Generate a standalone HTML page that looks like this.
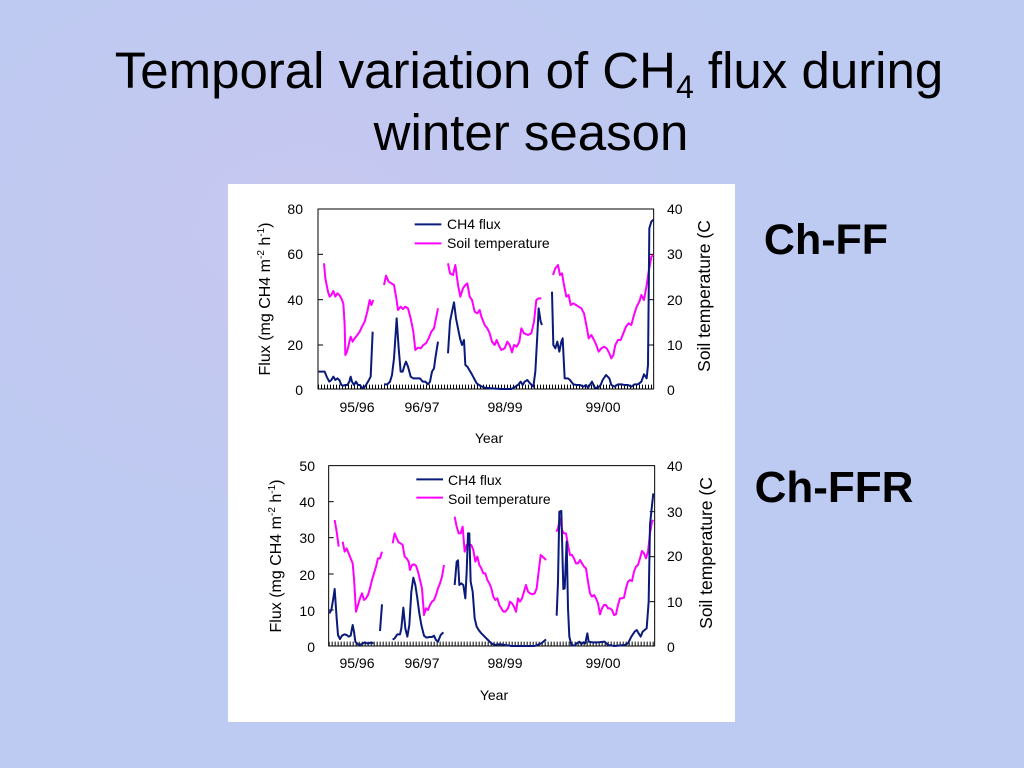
<!DOCTYPE html>
<html><head><meta charset="utf-8"><style>
html,body{margin:0;padding:0;width:1024px;height:768px;overflow:hidden;background:#bcc9f1;}
svg{display:block}
text{font-family:"Liberation Sans",sans-serif;}
</style></head><body>
<svg width="1024" height="768" viewBox="0 0 1024 768" xmlns="http://www.w3.org/2000/svg">
<defs>
<radialGradient id="b1" cx="0.3" cy="0.3" r="0.6"><stop offset="0" stop-color="#d4c4ee"/><stop offset="1" stop-color="#bcc9f1" stop-opacity="0"/></radialGradient>
</defs>
<rect width="1024" height="768" fill="#bdcaf1"/>
<rect width="1024" height="768" fill="url(#b1)" opacity="0.5"/>
<text x="529" y="88" font-size="51" text-anchor="middle" fill="#000">Temporal variation of CH<tspan font-size="32" dy="10">4</tspan><tspan dy="-10"> flux during</tspan></text>
<text x="531" y="150" font-size="51" text-anchor="middle" fill="#000">winter season</text>
<text x="826" y="254" font-size="43" font-weight="bold" text-anchor="middle">Ch-FF</text>
<text x="834" y="502" font-size="44" font-weight="bold" text-anchor="middle">Ch-FFR</text>
<rect x="228" y="184" width="507" height="538" fill="#fff"/>

<!-- Chart 1 -->
<g transform="translate(228,185) scale(0.33333)" fill="none" stroke-linejoin="round">
<rect x="270" y="72" width="1007" height="540" stroke="#000" stroke-width="3"/>
<line x1="270" y1="605" x2="1277" y2="605" stroke="#000" stroke-width="12" stroke-dasharray="3,6"/>
<g stroke="#000" stroke-width="3">
<line x1="270" y1="208" x2="285" y2="208"/><line x1="270" y1="344" x2="285" y2="344"/><line x1="270" y1="480" x2="285" y2="480"/>
<line x1="1262" y1="208" x2="1277" y2="208"/><line x1="1262" y1="344" x2="1277" y2="344"/><line x1="1262" y1="480" x2="1277" y2="480"/>
</g>
<g stroke="#ff00ff" stroke-width="6">
<polyline points="288,235 292,280 300,320 305,335 310,330 316,318 322,335 328,325 334,330 340,340 346,355 350,420 352,510 357,500 362,480 368,455 374,470 380,460 388,450 395,440 402,425 410,410 418,380 425,345 430,360 436,345"/>
<polyline points="468,300 474,272 482,290 490,295 498,300 505,340 510,375 518,365 525,372 532,365 540,370 548,400 556,440 562,495 570,488 578,490 586,480 594,475 602,460 610,440 618,430 624,400 630,370"/>
<polyline points="660,235 666,265 675,270 682,240 690,300 697,335 705,310 712,300 718,295 725,335 732,345 740,380 748,385 755,375 760,395 770,420 778,430 785,445 792,470 800,480 806,465 812,480 820,495 830,490 838,470 845,480 852,502 858,480 866,485 874,470 880,430 888,445 900,450 910,445 918,410 925,345 932,340 940,340"/>
<polyline points="975,270 982,250 990,240 996,270 1002,265 1008,300 1015,335 1022,330 1028,360 1036,355 1044,360 1052,365 1060,370 1068,385 1075,420 1082,460 1090,450 1098,465 1105,480 1112,500 1120,490 1128,485 1136,490 1144,505 1150,520 1156,510 1162,480 1170,465 1178,465 1186,445 1194,425 1202,415 1210,420 1218,390 1226,365 1234,350 1240,330 1248,345 1256,300 1262,260 1270,215 1276,210"/>
</g>
<g stroke="#0a1a7a" stroke-width="6">
<polyline points="272,560 282,560 290,560 296,575 304,590 310,585 316,575 322,585 328,580 334,585 340,600 346,602 352,600 358,600 364,590 368,575 372,590 378,600 384,590 390,600 396,600 402,608 408,608 414,600 420,590 428,575 434,440"/>
<polyline points="468,598 478,598 486,590 492,570 498,520 506,400 512,490 518,560 524,560 530,540 534,530 540,545 548,575 556,580 566,580 576,580 584,590 592,590 600,598 606,590 612,560 618,550 622,520 630,470"/>
<polyline points="660,505 666,410 672,380 678,352 684,400 690,430 696,460 702,480 708,465 712,540 718,545 724,555 730,565 738,580 746,595 756,602 770,608 790,610 820,612 850,612 870,600 878,590 884,600 890,590 898,585 906,595 916,605 922,560 928,450 932,370 938,410 942,420"/>
<polyline points="972,320 976,480 982,490 988,470 994,500 1000,470 1004,460 1010,580 1020,580 1026,585 1036,598 1046,600 1056,600 1066,605 1074,600 1080,608 1092,590 1100,608 1110,608 1118,600 1124,585 1134,570 1144,580 1150,600 1160,605 1170,598 1180,598 1190,600 1200,600 1210,605 1220,598 1230,598 1240,590 1248,568 1256,580 1260,540 1264,130 1270,110 1276,104"/>
</g>
<line x1="560" y1="118" x2="640" y2="118" stroke="#0a1a7a" stroke-width="6"/>
<line x1="560" y1="175" x2="640" y2="175" stroke="#ff00ff" stroke-width="6"/>
</g>
<g font-size="14" fill="#000">
<text x="447" y="229">CH4 flux</text>
<text x="447" y="248">Soil temperature</text>
<text x="303" y="214" text-anchor="end">80</text><text x="303" y="259" text-anchor="end">60</text><text x="303" y="305" text-anchor="end">40</text><text x="303" y="350" text-anchor="end">20</text><text x="303" y="395" text-anchor="end">0</text>
<text x="667" y="214">40</text><text x="667" y="259">30</text><text x="667" y="305">20</text><text x="667" y="350">10</text><text x="667" y="395">0</text>
<text x="357" y="412" text-anchor="middle">95/96</text><text x="422" y="412" text-anchor="middle">96/97</text><text x="505" y="412" text-anchor="middle">98/99</text><text x="603" y="412" text-anchor="middle">99/00</text>
<text x="489" y="443" text-anchor="middle">Year</text>
<text transform="translate(270,299) rotate(-90)" text-anchor="middle" font-size="16">Flux (mg CH4 m<tspan font-size="10" dy="-6">-2</tspan><tspan dy="6"> h</tspan><tspan font-size="10" dy="-6">-1</tspan><tspan dy="6">)</tspan></text>
<text transform="translate(710,296) rotate(-90)" text-anchor="middle" font-size="17.5">Soil temperature (C</text>
</g>

<!-- Chart 2 -->
<g transform="translate(228,445) scale(0.33333)" fill="none" stroke-linejoin="round">
<rect x="302" y="62" width="978" height="541" stroke="#000" stroke-width="3"/>
<line x1="302" y1="596" x2="1280" y2="596" stroke="#000" stroke-width="12" stroke-dasharray="3,6"/>
<g stroke="#000" stroke-width="3">
<line x1="302" y1="170" x2="317" y2="170"/><line x1="302" y1="278" x2="317" y2="278"/><line x1="302" y1="387" x2="317" y2="387"/><line x1="302" y1="495" x2="317" y2="495"/>
<line x1="1265" y1="200" x2="1280" y2="200"/><line x1="1265" y1="335" x2="1280" y2="335"/><line x1="1265" y1="470" x2="1280" y2="470"/>
</g>
<g stroke="#ff00ff" stroke-width="6">
<polyline points="320,225 326,260 332,305"/>
<polyline points="344,290 350,320 356,310 362,325 368,340 374,355 378,400 384,500 390,480 396,460 402,445 408,465 414,460 420,450 426,430 432,405 438,385 444,365 450,340 456,340 462,320"/>
<polyline points="494,295 500,265 506,280 512,292 518,295 524,300 530,335 536,340 542,350 546,375 552,360 558,358 564,362 570,380 576,405 582,430 588,510 594,490 600,495 606,480 612,470 618,465 624,450 630,430 636,415 642,395 648,360"/>
<polyline points="680,215 686,245 692,265 698,265 704,245 710,320 716,300 722,300 730,300 736,315 742,350 748,335 754,360 760,370 766,385 772,385 778,405 784,415 790,430 796,455 802,465 808,460 814,480 820,490 826,500 832,500 840,490 846,470 852,475 858,485 864,500 870,460 876,470 882,460 888,440 894,420 900,440 906,445 914,448 920,445 926,430 932,380 938,330 944,335 954,345"/>
<polyline points="985,260 990,250 996,220 1002,255 1008,265 1014,265 1020,300 1026,330 1032,330 1038,340 1044,355 1050,355 1056,345 1062,355 1068,365 1074,370 1080,410 1086,445 1092,455 1098,450 1104,460 1110,475 1116,508 1122,490 1128,480 1134,480 1140,490 1146,490 1152,495 1158,510 1164,508 1170,480 1176,460 1182,460 1188,458 1194,430 1200,410 1206,405 1212,408 1218,380 1224,365 1230,360 1236,340 1242,318 1248,325 1254,340 1260,320 1266,265 1272,230 1276,225"/>
</g>
<g stroke="#0a1a7a" stroke-width="6">
<polyline points="304,505 310,495 316,460 320,432 326,520 330,570 336,582 342,572 350,568 356,570 362,575 368,572 374,540 378,560 382,590 390,598 400,598 410,592 420,596 430,592 436,596"/>
<polyline points="456,558 462,478"/>
<polyline points="494,584 500,580 508,568 516,568 520,550 526,488 532,550 538,575 544,540 550,440 556,398 562,420 568,460 574,505 580,540 588,572 596,578 604,576 612,576 618,572 624,585 630,590 638,570 646,562"/>
<polyline points="680,420 686,350 690,346 694,420 700,415 706,420 712,460 716,380 720,265 724,265 728,410 734,440 740,520 746,545 752,555 760,565 770,575 780,585 790,595 800,600 810,598 820,598 830,600 850,603 880,603 920,603 940,595 954,583"/>
<polyline points="986,512 990,410 994,200 1000,198 1006,432 1010,430 1016,290 1020,490 1024,575 1030,600 1040,602 1046,595 1054,590 1060,598 1066,592 1072,595 1078,565 1082,590 1092,592 1110,592 1130,590 1140,600 1160,603 1190,600 1200,595 1210,575 1220,560 1226,555 1232,565 1238,575 1244,560 1256,550 1262,470 1266,240 1270,200 1276,145"/>
</g>
<line x1="565" y1="103" x2="645" y2="103" stroke="#0a1a7a" stroke-width="6"/>
<line x1="565" y1="158" x2="645" y2="158" stroke="#ff00ff" stroke-width="6"/>
</g>
<g font-size="14" fill="#000">
<text x="448" y="485">CH4 flux</text>
<text x="448" y="504">Soil temperature</text>
<text x="315" y="471" text-anchor="end">50</text><text x="315" y="507" text-anchor="end">40</text><text x="315" y="543" text-anchor="end">30</text><text x="315" y="580" text-anchor="end">20</text><text x="315" y="616" text-anchor="end">10</text><text x="315" y="652" text-anchor="end">0</text>
<text x="667" y="471">40</text><text x="667" y="517">30</text><text x="667" y="561">20</text><text x="667" y="607">10</text><text x="667" y="652">0</text>
<text x="357" y="668" text-anchor="middle">95/96</text><text x="422" y="668" text-anchor="middle">96/97</text><text x="505" y="668" text-anchor="middle">98/99</text><text x="603" y="668" text-anchor="middle">99/00</text>
<text x="494" y="700" text-anchor="middle">Year</text>
<text transform="translate(281,556) rotate(-90)" text-anchor="middle" font-size="16">Flux (mg CH4 m<tspan font-size="10" dy="-6">-2</tspan><tspan dy="6"> h</tspan><tspan font-size="10" dy="-6">-1</tspan><tspan dy="6">)</tspan></text>
<text transform="translate(712,553) rotate(-90)" text-anchor="middle" font-size="17.5">Soil temperature (C</text>
</g>
</svg>
</body></html>
